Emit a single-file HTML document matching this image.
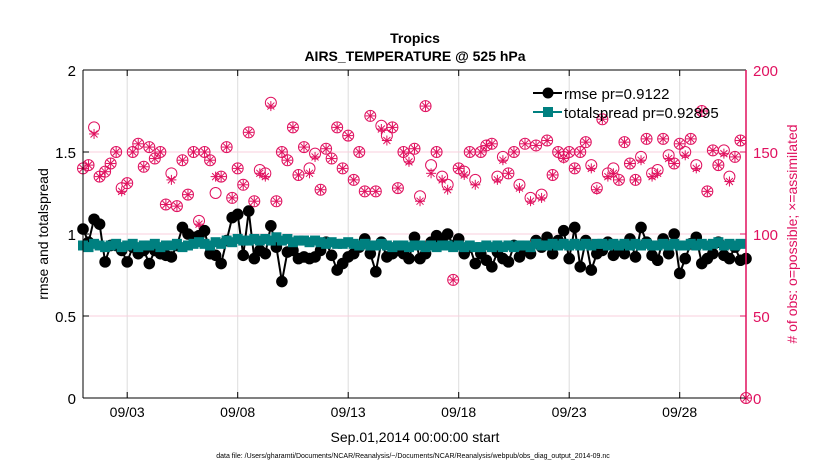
<!DOCTYPE html>
<html><head><meta charset="utf-8"><style>
body{margin:0;background:#fff;}
svg{display:block;font-family:"Liberation Sans",sans-serif;}
</style></head><body>
<svg id="chart" width="830" height="470">
<text x="415" y="43" text-anchor="middle" font-size="14" font-weight="bold">Tropics</text>
<text x="415" y="61" text-anchor="middle" font-size="14" font-weight="bold">AIRS_TEMPERATURE @ 525 hPa</text>
<g id="grid"></g><g id="series"></g><g id="axes"></g>
<g>
 <line x1="533" y1="93" x2="562" y2="93" stroke="#000" stroke-width="2"/>
 <circle cx="548" cy="93" r="5.5" fill="#000"/>
 <text x="564" y="99" font-size="15">rmse pr=0.9122</text>
 <line x1="533" y1="112" x2="562" y2="112" stroke="#008080" stroke-width="2"/>
 <rect x="543" y="107" width="10" height="10" fill="#008080"/>
 <text x="564" y="118" font-size="15">totalspread pr=0.92895</text>
</g>
<text x="415" y="442" text-anchor="middle" font-size="14">Sep.01,2014 00:00:00 start</text>
<text x="48" y="234" text-anchor="middle" font-size="14" transform="rotate(-90 48 234)">rmse and totalspread</text>
<text x="797" y="234" text-anchor="middle" font-size="14" fill="#e0115f" transform="rotate(-90 797 234)"># of obs: o=possible; ×=assimilated</text>
<text x="413" y="458" text-anchor="middle" font-size="7">data file: /Users/gharamti/Documents/NCAR/Reanalysis/~/Documents/NCAR/Reanalysis/webpub/obs_diag_output_2014-09.nc</text>
</svg>
<script>
const dateTicks=[3,8,13,18,23,28];
const dateLabels=["09/03","09/08","09/13","09/18","09/23","09/28"];
const leftTicks=[0,0.5,1,1.5,2];
const rightTicks=[0,50,100,150,200];
const rmse=[1.03,0.95,1.09,1.06,0.83,0.93,0.93,0.90,0.83,0.92,0.88,0.90,0.82,0.90,0.88,0.87,0.86,0.93,1.04,1.0,0.98,0.99,1.02,0.88,0.87,0.82,0.96,1.1,1.12,0.87,1.14,0.85,0.90,0.88,1.05,0.92,0.71,0.89,0.90,0.85,0.86,0.85,0.86,0.90,0.95,0.87,0.78,0.82,0.86,0.88,0.92,0.97,0.88,0.77,0.95,0.86,0.88,0.90,0.88,0.85,0.98,
0.85,0.88,0.95,0.99,0.96,1.0,0.93,0.97,0.88,0.92,0.82,0.88,0.84,0.80,0.89,0.85,0.83,0.93,0.86,0.90,0.88,0.96,0.92,0.98,0.88,0.96,1.02,0.85,1.04,0.80,0.96,0.78,0.88,0.90,0.95,0.87,0.90,0.88,0.97,0.86,1.04,0.95,0.87,0.84,0.97,0.88,1.0,0.76,0.85,0.94,0.98,0.82,0.85,0.88,0.95,0.87,0.85,0.92,0.84,0.85];
const spread=[0.93,0.92,0.94,0.93,0.92,0.93,0.94,0.92,0.93,0.94,0.92,0.93,0.93,0.94,0.92,0.93,0.93,0.94,0.92,0.93,0.94,0.95,0.94,0.93,0.95,0.94,0.96,0.95,0.97,0.96,0.96,0.97,0.96,0.97,0.96,0.98,0.96,0.97,0.95,0.96,0.96,0.95,0.96,0.95,0.94,0.95,0.94,0.94,0.95,0.94,0.93,0.94,0.93,0.93,0.94,0.93,0.92,0.93,0.93,0.92,0.93,
0.93,0.92,0.93,0.92,0.93,0.93,0.92,0.93,0.92,0.93,0.92,0.92,0.93,0.92,0.93,0.92,0.93,0.92,0.93,0.93,0.92,0.94,0.93,0.93,0.94,0.93,0.94,0.93,0.94,0.93,0.94,0.93,0.94,0.94,0.93,0.94,0.93,0.94,0.93,0.94,0.93,0.94,0.93,0.93,0.94,0.93,0.94,0.93,0.93,0.94,0.93,0.94,0.93,0.94,0.95,0.93,0.94,0.93,0.94];
const possible=[140,142,165,135,138,143,150,128,131,150,155,141,153,146,150,118,137,117,145,124,150,108,150,145,125,135,153,122,140,130,162,120,139,137,180,120,150,145,165,136,153,140,149,127,152,146,165,140,160,133,150,126,172,126,166,160,165,128,150,146,
152,123,178,142,150,135,130,72,140,138,150,133,150,154,155,135,147,137,150,130,155,122,154,124,157,136,150,147,150,140,150,156,142,128,170,137,140,133,156,143,133,147,158,137,139,158,148,143,155,150,158,142,175,126,151,142,151,135,147,157,0];
const assimilated=[140,142,161,135,138,143,150,126,131,150,155,141,153,146,150,118,133,117,145,124,150,106,150,145,135,135,153,122,140,130,162,120,137,135,178,120,150,145,165,136,153,137,147,127,152,146,165,140,160,133,150,126,172,126,164,157,165,128,150,144,
152,120,178,137,150,133,127,72,140,136,150,130,150,154,155,133,145,137,150,128,155,120,154,122,157,136,150,146,150,140,150,156,140,127,170,135,137,133,156,143,133,145,158,135,137,158,146,143,155,148,158,140,175,126,151,142,149,132,147,157,0];
const NS="http://www.w3.org/2000/svg";
const L=83,R=746,T=70,B=398;
const xS=d=>L+(d-1)/30*(R-L);
const yL=v=>B-v/2*(B-T);
const yR=v=>B-v/200*(B-T);
const tX=i=>1+i*0.25;
function mk(tag,attrs,parent){const e=document.createElementNS(NS,tag);for(const k in attrs)e.setAttribute(k,attrs[k]);parent.appendChild(e);return e;}
const grid=document.getElementById('grid'),ser=document.getElementById('series'),ax=document.getElementById('axes');
dateTicks.forEach((d,i)=>{
 const g=mk('line',{x1:xS(d),x2:xS(d),y1:T,y2:B,stroke:'#ddd','stroke-width':1},grid);
 
 
 const t=mk('text',{x:xS(d),y:417,'text-anchor':'middle','font-size':14},ax);t.textContent=dateLabels[i];
 
 
 mk('line',{x1:xS(d),x2:xS(d),y1:B,y2:B-6,stroke:'#000'},ax);
 mk('line',{x1:xS(d),x2:xS(d),y1:T,y2:T+6,stroke:'#000'},ax);
});
rightTicks.forEach(v=>{
 if(v>0&&v<200){const g=mk('line',{x1:L,x2:R,y1:yR(v),y2:yR(v),stroke:'#f8cfdc','stroke-width':1},grid);
 
 }
 const t=mk('text',{x:R+7,y:yR(v)+6,'font-size':15,fill:'#e0115f'},ax);t.textContent=v;
 
 
 mk('line',{x1:R,x2:R-6,y1:yR(v),y2:yR(v),stroke:'#e0115f'},ax);
});
leftTicks.forEach(v=>{
 const t=mk('text',{x:L-7,y:yL(v)+6,'font-size':15,'text-anchor':'end'},ax);t.textContent=v;
 
 
 mk('line',{x1:L,x2:L+6,y1:yL(v),y2:yL(v),stroke:'#000'},ax);
});
mk('line',{x1:L,x2:L,y1:T,y2:B,stroke:'#000'},ax);
mk('line',{x1:L,x2:R,y1:B,y2:B,stroke:'#000'},ax);
mk('line',{x1:L,x2:R,y1:T,y2:T,stroke:'#000'},ax);
mk('line',{x1:R,x2:R,y1:T,y2:B,stroke:'#e0115f','stroke-width':1.5},ax);
possible.forEach((v,i)=>{
 const x=xS(tX(i)),y=yR(v);
 const c=mk('circle',{cx:x,cy:y,r:5.5,fill:'none',stroke:'#e0115f','stroke-width':1},ser);
 
 
});
assimilated.forEach((v,i)=>{
 const x=xS(tX(i)),y=yR(v),g=mk('g',{stroke:'#e0115f','stroke-width':1},ser);
 
 
 mk('line',{x1:x,x2:x,y1:y-5,y2:y+5},g);mk('line',{x1:x-5,x2:x+5,y1:y,y2:y},g);
 mk('line',{x1:x-3.5,x2:x+3.5,y1:y-3.5,y2:y+3.5},g);mk('line',{x1:x-3.5,x2:x+3.5,y1:y+3.5,y2:y-3.5},g);
});
const rl=mk('polyline',{points:rmse.map((v,i)=>xS(tX(i))+','+yL(v)).join(' '),fill:'none',stroke:'#000','stroke-width':2},ser);


rmse.forEach((v,i)=>{const c=mk('circle',{cx:xS(tX(i)),cy:yL(v),r:5.8,fill:'#000'},ser);
 
 });
const sl=mk('polyline',{points:spread.map((v,i)=>xS(tX(i))+','+yL(v)).join(' '),fill:'none',stroke:'#008080','stroke-width':2},ser);


spread.forEach((v,i)=>{const r=mk('rect',{x:xS(tX(i))-5,y:yL(v)-5,width:10,height:10,fill:'#008080'},ser);
 
 });
</script>
</body></html>
